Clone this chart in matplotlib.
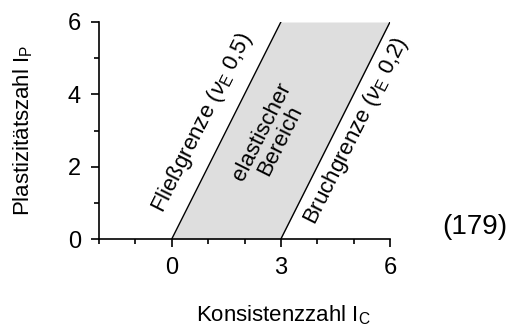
import numpy as np
import matplotlib
matplotlib.use("Agg")
import matplotlib.pyplot as plt
from matplotlib.ticker import MultipleLocator

plt.rcParams['font.family'] = ['Liberation Sans', 'DejaVu Sans']
plt.rcParams['mathtext.fontset'] = 'custom'
plt.rcParams['mathtext.rm'] = 'Liberation Sans'
plt.rcParams['mathtext.it'] = 'Liberation Sans:italic'

# limit lines, I_P over I_C
fliess_x = [0, 3]
bruch_x = [3, 6]
ip_y = [0, 6]

x_ticks = [0, 3, 6]
y_ticks = [0, 2, 4, 6]

fig = plt.figure(figsize=(5.18, 3.34), dpi=100)
ax = fig.add_axes([99 / 518, 1 - 239 / 334, 291 / 518, 217 / 334])

# elastic band between both limits
ax.fill_betweenx(ip_y, fliess_x, bruch_x, color="#dedede", lw=0)
ax.plot(fliess_x, ip_y, color="black", lw=1.0)
ax.plot(bruch_x, ip_y, color="black", lw=1.0)

ax.set_xlim(-2, 6)
ax.set_ylim(0, 6)
ax.set_xticks(x_ticks)
ax.set_yticks(y_ticks)
ax.xaxis.set_minor_locator(MultipleLocator(1))
ax.yaxis.set_minor_locator(MultipleLocator(1))
ax.tick_params(which="major", direction="out", length=6, width=1.2, labelsize=17, pad=7)
ax.tick_params(which="minor", direction="out", length=3.5, width=1.2)
ax.spines[["top", "right"]].set_visible(False)
for s in ["left", "bottom"]:
    ax.spines[s].set_linewidth(1.2)

ang = np.degrees(np.arctan2(6 * 217 / 6, 3 * 291 / 8))
ax.text(0.85, 3.2, r"Fließgrenze ($\nu_{\mathrm{E}}$ 0,5)", rotation=ang,
        ha="center", va="center", fontsize=16)
ax.text(2.72, 2.85, "elastischer\nBereich", rotation=ang, ha="center", va="center",
        fontsize=16, linespacing=0.95)
ax.text(5.08, 3.0, r"Bruchgrenze ($\nu_{\mathrm{E}}$ 0,2)", rotation=ang,
        ha="center", va="center", fontsize=16, clip_on=False)

fig.text(23 / 518, 1 - 130 / 334, r"Plastizitätszahl $\mathregular{I_P}$", rotation=90,
         ha="center", va="center", fontsize=16)
fig.text(283 / 518, 1 - 315 / 334, r"Konsistenzzahl $\mathregular{I_C}$",
         ha="center", va="center", fontsize=16)
fig.text(475 / 518, 1 - 227 / 334, "(179)", ha="center", va="center", fontsize=20)

fig.savefig("out.png", dpi=100)
